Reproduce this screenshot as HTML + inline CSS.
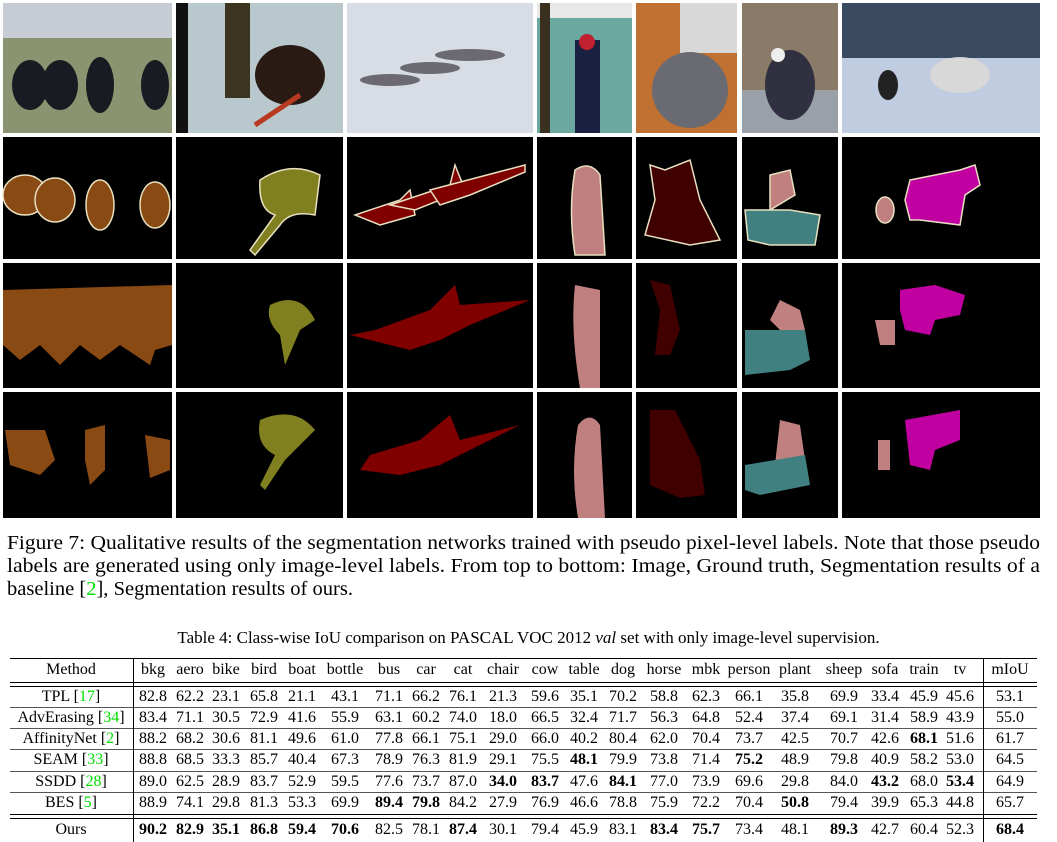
<!DOCTYPE html>
<html><head><meta charset="utf-8">
<style>
body{margin:0;width:1057px;height:842px;background:#fff;position:relative;overflow:hidden;font-family:"Liberation Serif",serif;color:#000}
.cap{position:absolute;left:7px;font-size:20px;line-height:22px;white-space:nowrap;transform-origin:0 0}
.ref{color:#00e000}
.c{position:absolute;font-size:16px;line-height:18px;text-align:center;white-space:nowrap;transform:translateX(-50%)}
.hl{position:absolute;left:10px;width:1027px;height:1px;background:#000}
.vl{position:absolute;width:1px;background:#000}
</style></head><body>
<svg width="1057" height="520" style="position:absolute;left:0;top:0">
 <g>
  <rect x="3" y="3" width="169" height="130" fill="#8a9470"/><rect x="3" y="3" width="169" height="35" fill="#c8ccd4"/>
  <ellipse cx="30" cy="85" rx="18" ry="25" fill="#1a1a22"/><ellipse cx="60" cy="85" rx="18" ry="25" fill="#1a1a22"/><ellipse cx="100" cy="85" rx="14" ry="28" fill="#1a1a22"/><ellipse cx="155" cy="85" rx="14" ry="25" fill="#1a1a22"/>
  <rect x="176" y="3" width="167" height="130" fill="#b8c8cc"/><rect x="176" y="3" width="12" height="130" fill="#111"/><rect x="225" y="3" width="25" height="95" fill="#3a3420"/><ellipse cx="290" cy="75" rx="35" ry="30" fill="#2a1a14"/><line x1="300" y1="95" x2="255" y2="125" stroke="#b83a20" stroke-width="5"/>
  <rect x="347" y="3" width="186" height="130" fill="#d8dce4"/><g fill="#6a6a70"><ellipse cx="390" cy="80" rx="30" ry="6"/><ellipse cx="430" cy="68" rx="30" ry="6"/><ellipse cx="470" cy="55" rx="35" ry="6"/></g>
  <rect x="537" y="3" width="95" height="130" fill="#6aa8a0"/><rect x="537" y="3" width="95" height="15" fill="#e8e8e8"/><rect x="540" y="3" width="10" height="130" fill="#3a3020"/><rect x="575" y="40" width="25" height="93" fill="#1a2040"/><circle cx="587" cy="42" r="8" fill="#c02030"/>
  <rect x="636" y="3" width="101" height="130" fill="#c07030"/><rect x="680" y="3" width="57" height="50" fill="#d8d8d8"/><ellipse cx="690" cy="90" rx="38" ry="38" fill="#6a6a72"/>
  <rect x="742" y="3" width="96" height="130" fill="#8a7a68"/><rect x="742" y="90" width="96" height="43" fill="#9aa0a8"/><ellipse cx="790" cy="85" rx="25" ry="35" fill="#303040"/><circle cx="778" cy="55" r="7" fill="#eee"/>
  <rect x="842" y="3" width="198" height="130" fill="#c0cce0"/><rect x="842" y="3" width="198" height="55" fill="#3a4a60"/><ellipse cx="960" cy="75" rx="30" ry="18" fill="#d8d8d8"/><ellipse cx="888" cy="85" rx="10" ry="15" fill="#222"/>
 </g>
 <g>
  <rect x="3" y="137" width="169" height="122"/><rect x="176" y="137" width="167" height="122"/><rect x="347" y="137" width="186" height="122"/><rect x="537" y="137" width="95" height="122"/><rect x="636" y="137" width="101" height="122"/><rect x="742" y="137" width="96" height="122"/><rect x="842" y="137" width="198" height="122"/>
  <rect x="3" y="263" width="169" height="125"/><rect x="176" y="263" width="167" height="125"/><rect x="347" y="263" width="186" height="125"/><rect x="537" y="263" width="95" height="125"/><rect x="636" y="263" width="101" height="125"/><rect x="742" y="263" width="96" height="125"/><rect x="842" y="263" width="198" height="125"/>
  <rect x="3" y="392" width="169" height="126"/><rect x="176" y="392" width="167" height="126"/><rect x="347" y="392" width="186" height="126"/><rect x="537" y="392" width="95" height="126"/><rect x="636" y="392" width="101" height="126"/><rect x="742" y="392" width="96" height="126"/><rect x="842" y="392" width="198" height="126"/>
  <g stroke="#e8e0c0" stroke-width="1.5">
   <g fill="#8a4a14"><ellipse cx="25" cy="195" rx="22" ry="20"/><ellipse cx="55" cy="200" rx="20" ry="22"/><ellipse cx="100" cy="205" rx="14" ry="25"/><ellipse cx="155" cy="205" rx="15" ry="23"/></g>
   <path d="M260 180 Q290 160 320 175 L315 215 Q290 210 280 225 L255 255 L250 250 L275 215 Q258 210 260 180Z" fill="#808020"/>
   <g fill="#800000"><path d="M355 215 L400 200 L410 190 L415 215 L380 225Z"/><path d="M390 205 L450 185 L455 165 L465 190 L415 210Z"/><path d="M430 190 L525 165 L525 172 L470 195 L440 205Z"/></g>
   <path d="M575 170 Q590 160 600 175 L605 255 L575 255 Q568 210 575 170Z" fill="#c08080"/>
   <path d="M650 165 L665 170 L690 160 L700 200 L720 240 L690 245 L645 235 L655 200Z" fill="#400000"/>
   <path d="M770 175 L790 170 L795 195 L770 210Z" fill="#c08080"/><path d="M745 210 L790 210 L820 215 L815 245 L770 245 L748 240Z" fill="#408080"/>
   <path d="M910 180 L960 170 L975 165 L980 185 L965 195 L960 225 L920 220 L910 220 L905 200Z" fill="#c000a0"/><ellipse cx="885" cy="210" rx="9" ry="13" fill="#c08080"/>
  </g>
  <path d="M3 290 L172 285 L172 345 L155 350 L150 365 L120 345 L100 360 L80 345 L60 365 L40 345 L20 360 L3 345Z" fill="#8a4a14"/>
  <path d="M270 305 Q300 290 315 320 L300 330 L285 365 L280 335 Q265 320 270 305Z" fill="#808020"/>
  <path d="M375 330 L430 310 L455 285 L460 305 L530 300 L470 325 L440 340 L410 350 L390 345 L350 335Z" fill="#800000"/>
  <path d="M575 285 L600 290 L600 388 L580 388 Q570 330 575 285Z" fill="#c08080"/>
  <path d="M650 280 L670 285 L680 330 L670 355 L655 355 L660 310Z" fill="#400000"/>
  <path d="M780 300 L800 310 L805 330 L780 330 L770 320Z" fill="#c08080"/><path d="M745 330 L805 330 L810 360 L790 370 L745 375Z" fill="#408080"/>
  <path d="M900 290 L935 285 L965 295 L960 315 L935 320 L930 335 L905 330 L900 310Z" fill="#c000a0"/><path d="M875 320 L895 320 L895 345 L880 345Z" fill="#c08080"/>
  <g fill="#8a4a14"><path d="M5 430 L45 430 L55 460 L40 475 L10 465Z"/><path d="M85 430 L105 425 L105 470 L90 485 L85 460Z"/><path d="M145 435 L170 440 L170 470 L150 478 Z"/></g>
  <path d="M260 420 Q295 405 315 430 L300 445 L285 460 L265 490 L260 485 L275 455 Q255 445 260 420Z" fill="#808020"/>
  <path d="M370 455 L420 440 L450 415 L460 440 L520 425 L470 450 L440 465 L400 475 L360 470Z" fill="#800000"/>
  <path d="M578 425 Q590 410 600 425 L605 518 L578 518 Q570 470 578 425Z" fill="#c08080"/>
  <path d="M650 410 L675 410 L700 460 L705 495 L680 498 L650 485 Z" fill="#400000"/>
  <path d="M780 420 L800 425 L805 460 L775 465Z" fill="#c08080"/><path d="M745 465 L805 455 L810 485 L760 495 L745 490Z" fill="#408080"/>
  <path d="M905 420 L960 410 L960 440 L935 450 L930 470 L910 465Z" fill="#c000a0"/><path d="M878 440 L890 440 L890 470 L878 470Z" fill="#c08080"/>
 </g>
</svg>

<div class="cap" data-w="1033" style="top:532px">Figure 7: Qualitative results of the segmentation networks trained with pseudo pixel-level labels. Note that those pseudo</div>
<div class="cap" data-w="1033" style="top:555px">labels are generated using only image-level labels. From top to bottom: Image, Ground truth, Segmentation results of a</div>
<div class="cap" data-w="346" style="top:578px">baseline [<span class="ref">2</span>], Segmentation results of ours.</div>

<div style="position:absolute;top:628px;left:0;width:1057px;text-align:center;font-size:17px">Table 4: Class-wise IoU comparison on PASCAL VOC 2012 <i>val</i> set with only image-level supervision.</div>

<div id="tbl"></div>
<script>
const headers=["Method","bkg","aero","bike","bird","boat","bottle","bus","car","cat","chair","cow","table","dog","horse","mbk","person","plant","sheep","sofa","train","tv","mIoU"];
const methods=["TPL","AdvErasing","AffinityNet","SEAM","SSDD","BES","Ours"];
const refs=["17","34","2","33","28","5",""];
const rowTPL=["82.8","62.2","23.1","65.8","21.1","43.1","71.1","66.2","76.1","21.3","59.6","35.1","70.2","58.8","62.3","66.1","35.8","69.9","33.4","45.9","45.6","53.1"];
const rowAdv=["83.4","71.1","30.5","72.9","41.6","55.9","63.1","60.2","74.0","18.0","66.5","32.4","71.7","56.3","64.8","52.4","37.4","69.1","31.4","58.9","43.9","55.0"];
const rowAff=["88.2","68.2","30.6","81.1","49.6","61.0","77.8","66.1","75.1","29.0","66.0","40.2","80.4","62.0","70.4","73.7","42.5","70.7","42.6","*68.1","51.6","61.7"];
const rowSEAM=["88.8","68.5","33.3","85.7","40.4","67.3","78.9","76.3","81.9","29.1","75.5","*48.1","79.9","73.8","71.4","*75.2","48.9","79.8","40.9","58.2","53.0","64.5"];
const rowSSDD=["89.0","62.5","28.9","83.7","52.9","59.5","77.6","73.7","87.0","*34.0","*83.7","47.6","*84.1","77.0","73.9","69.6","29.8","84.0","*43.2","68.0","*53.4","64.9"];
const rowBES=["88.9","74.1","29.8","81.3","53.3","69.9","*89.4","*79.8","84.2","27.9","76.9","46.6","78.8","75.9","72.2","70.4","*50.8","79.4","39.9","65.3","44.8","65.7"];
const rowOurs=["*90.2","*82.9","*35.1","*86.8","*59.4","*70.6","82.5","78.1","*87.4","30.1","79.4","45.9","83.1","*83.4","*75.7","73.4","48.1","*89.3","42.7","60.4","52.3","*68.4"];
const rows=[rowTPL,rowAdv,rowAff,rowSEAM,rowSSDD,rowBES,rowOurs];
const colX=[71,153,190,226,264,302,345,389,426,463,503,545,584,623,664,706,749,795,844,885,924,960,1010];
const rowY=[661,688,709,730,751,773,794,821];
const T=document.getElementById('tbl');
function cell(txt,x,y,bold,name){const d=document.createElement('div');d.className='c';d.style.left=x+'px';d.style.top=y+'px';if(bold)d.style.fontWeight='bold';d.innerHTML=txt;


T.appendChild(d);}
headers.forEach((h,i)=>cell(h,colX[i],rowY[0],false,'header-'+h.toLowerCase()));
rows.forEach((r,ri)=>{
 const m=methods[ri]+(refs[ri]?' [<span class="ref">'+refs[ri]+'</span>]':'');
 cell(m,colX[0],rowY[ri+1],false,'method-'+methods[ri].toLowerCase());
 r.forEach((v,ci)=>{const b=v[0]==='*';cell(b?v.slice(1):v,colX[ci+1],rowY[ri+1],b,'cell-'+methods[ri].toLowerCase()+'-'+headers[ci+1].toLowerCase());});
});
function line(cls,style,name){const d=document.createElement('div');d.className=cls;d.setAttribute('style',style);


T.appendChild(d);}
line('hl','top:658px','table-top-rule');
line('hl','top:682px','header-rule-1');line('hl','top:686px','header-rule-2');
[707,728,749,771,792].forEach((y,i)=>line('hl','top:'+y+'px;background:#555','row-rule-'+i));
line('hl','top:814px','ours-rule-1');line('hl','top:818px','ours-rule-2');
line('vl','left:133px;top:658px;height:184px','method-column-rule');
line('vl','left:983px;top:658px;height:184px','miou-column-rule');
document.querySelectorAll('.cap').forEach(c=>{const w=c.getBoundingClientRect().width;c.style.transform='scaleX('+(+c.dataset.w/w)+')';});
</script>
</body></html>
